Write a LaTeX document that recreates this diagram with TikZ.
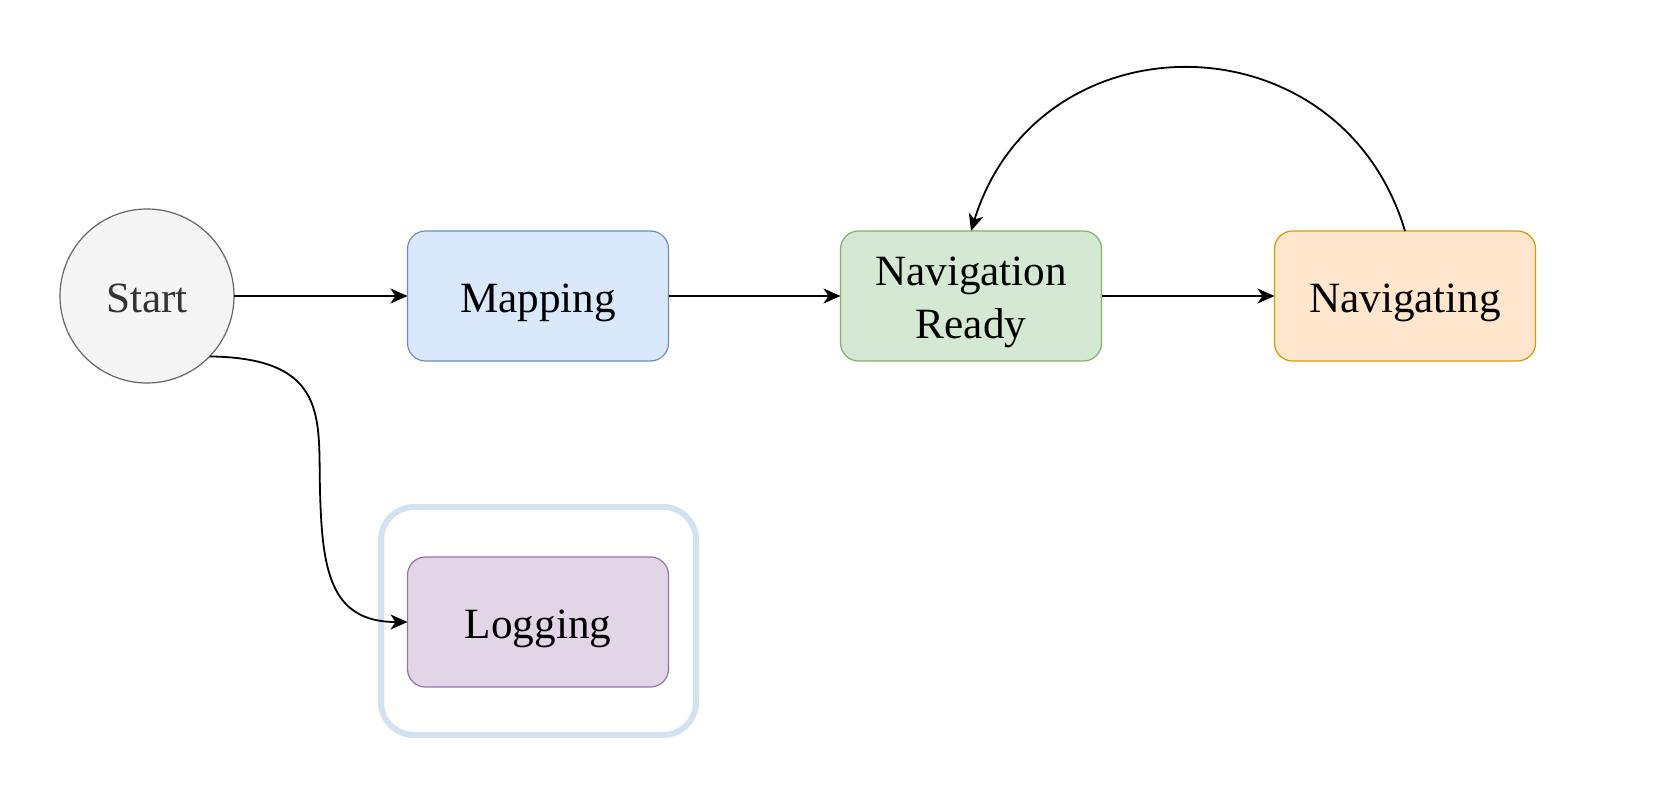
\documentclass[tikz,border=0pt]{standalone}
\usepackage{fontspec}
\setmainfont{Liberation Serif}
\usetikzlibrary{arrows.meta}
\definecolor{startfill}{HTML}{F5F5F5}
\definecolor{startline}{HTML}{666666}
\definecolor{starttext}{HTML}{333333}
\definecolor{mapfill}{HTML}{DAE8FC}
\definecolor{mapline}{HTML}{6C8EBF}
\definecolor{readyfill}{HTML}{D5E8D4}
\definecolor{readyline}{HTML}{82B366}
\definecolor{navfill}{HTML}{FFE6CC}
\definecolor{navline}{HTML}{D79B00}
\definecolor{logfill}{HTML}{E1D5E7}
\definecolor{logline}{HTML}{9673A6}
\definecolor{framecol}{HTML}{D3E2F1}
\tikzset{
  txt/.style={font=\fontsize{21.6}{26.5}\selectfont},
  oneline/.style={text height=18.3pt, text depth=2.2pt},
  twoline/.style={text height=45pt, text depth=3pt},
  statebox/.style={txt, rectangle, rounded corners=9pt, minimum width=130.5pt, minimum height=65pt, inner sep=0pt, outer sep=0pt, line width=0.6pt},
  startnode/.style={txt, oneline, circle, minimum size=87pt, inner sep=0pt, outer sep=0pt, fill=startfill, draw=startline, line width=0.6pt, text=starttext},
  groupframe/.style={rectangle, rounded corners=16.5pt, minimum width=157.5pt, minimum height=114pt, draw=framecol, line width=3pt, inner sep=0pt},
  conn/.style={line width=0.9pt, -{Stealth[length=8.5pt,width=7.5pt,inset=2.5pt]}}
}
\begin{document}
\begin{tikzpicture}[x=0.5pt,y=-0.5pt]
\useasboundingbox (0,0) rectangle (1680,802);
\node[groupframe] (group) at (538.5,621) {};
\node[startnode] (start) at (147,296) {Start};
\node[statebox, oneline, fill=mapfill, draw=mapline] (mapping) at (538,296) {Mapping};
\node[statebox, twoline, fill=readyfill, draw=readyline] (ready) at (971,296) {\begin{tabular}[b]{@{}c@{}}Navigation\\Ready\end{tabular}};
\node[statebox, oneline, fill=navfill, draw=navline] (nav) at (1405,296) {Navigating};
\node[statebox, oneline, fill=logfill, draw=logline] (log) at (538,622) {Logging};
\draw[conn] (start) -- (mapping);
\draw[conn] (mapping) -- (ready);
\draw[conn] (ready) -- (nav);
\draw[conn] (nav.north) .. controls (1340,14) and (1038,14) .. (ready.north);
\draw[conn] (start.-44) .. controls (330,358) and (318,420) .. (320,490) .. controls (322,570) and (330,622) .. (log.west);
\end{tikzpicture}
\end{document}
